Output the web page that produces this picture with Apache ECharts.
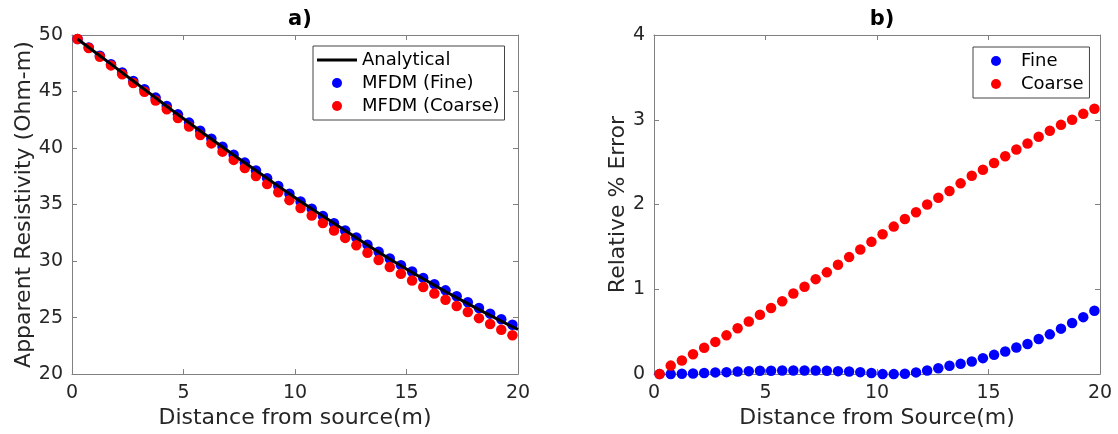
<!DOCTYPE html>
<html>
<head>
<meta charset="utf-8">
<script src="https://cdn.jsdelivr.net/npm/echarts@6/dist/echarts.min.js"></script>
<style>html,body{margin:0;padding:0;background:#fff;}#c{width:1118px;height:434px;}</style>
</head>
<body>
<div id="c"></div>
<script>
var distance = [0.25,0.75,1.25,1.75,2.25,2.75,3.25,3.75,4.25,4.75,5.25,5.75,6.25,6.75,7.25,7.75,8.25,8.75,9.25,9.75,
  10.25,10.75,11.25,11.75,12.25,12.75,13.25,13.75,14.25,14.75,15.25,15.75,16.25,16.75,17.25,17.75,18.25,18.75,19.25,19.75];
var analyticalX = [0.25,0.75,1.25,1.75,2.25,2.75,3.25,3.75,4.25,4.75,5.25,5.75,6.25,6.75,7.25,7.75,8.25,8.75,9.25,9.75,
  10.25,10.75,11.25,11.75,12.25,12.75,13.25,13.75,14.25,14.75,15.25,15.75,16.25,16.75,17.25,17.75,18.25,18.75,19.25,19.75,20];
var analytical = [49.65,48.90,48.16,47.42,46.67,45.93,45.19,44.45,43.70,42.96,42.23,41.51,40.80,40.09,39.39,38.69,38.01,37.32,36.63,35.95,
  35.28,34.63,33.99,33.34,32.70,32.06,31.42,30.79,30.19,29.58,29.00,28.43,27.87,27.31,26.77,26.24,25.71,25.20,24.68,24.19,23.95];
var fineRho = [49.65,48.90,48.16,47.42,46.68,45.94,45.20,44.46,43.72,42.98,42.25,41.53,40.82,40.11,39.41,38.71,38.02,37.33,36.64,35.95,
  35.28,34.63,33.99,33.35,32.71,32.08,31.45,30.83,30.23,29.64,29.07,28.51,27.96,27.41,26.88,26.36,25.85,25.35,24.85,24.37];
var coarseRho = [49.65,48.85,48.08,47.31,46.53,45.76,44.98,44.21,43.43,42.66,41.90,41.15,40.41,39.68,38.95,38.23,37.52,36.81,36.09,35.39,
  34.70,34.03,33.37,32.70,32.05,31.39,30.74,30.10,29.48,28.87,28.28,27.70,27.13,26.57,26.02,25.49,24.95,24.44,23.92,23.43];
var fineErr = [0.0,0.0,0.004,0.008,0.012,0.02,0.023,0.031,0.035,0.039,0.039,0.043,0.043,0.043,0.043,0.039,0.035,0.031,0.023,0.012,
  0.0,0.0,0.004,0.02,0.043,0.07,0.098,0.121,0.149,0.188,0.227,0.266,0.313,0.356,0.414,0.469,0.536,0.602,0.672,0.747];
var coarseErr = [0.0,0.10,0.16,0.235,0.31,0.38,0.457,0.54,0.62,0.70,0.78,0.86,0.95,1.03,1.12,1.20,1.29,1.38,1.47,1.56,
  1.65,1.74,1.83,1.91,2.0,2.08,2.16,2.25,2.34,2.41,2.49,2.57,2.65,2.72,2.80,2.87,2.94,3.00,3.07,3.13];
var xTicksA = [0,5,10,15,20];
var yTicksA = [20,25,30,35,40,45,50];
var yTicksB = [0,1,2,3,4];

function pairs(xs, ys){ return xs.map(function(x,i){ return [x, ys[i]]; }); }

var FONT = 'DejaVu Sans';
var txt = '#262626';
var axisCol = '#808080';
function mainX(grid, name){
  return {type:'value', gridIndex:grid, min:0, max:20, interval:5, position:'bottom',
    name:name, nameLocation:'middle', nameGap:30,
    nameTextStyle:{fontFamily:FONT, fontSize:22, color:txt},
    axisLine:{show:true, onZero:false, lineStyle:{color:axisCol, width:1}},
    axisTick:{show:true, inside:true, length:5, lineStyle:{color:axisCol}},
    axisLabel:{fontFamily:FONT, fontSize:19, color:txt, margin:9},
    splitLine:{show:false}};
}
function topX(grid){
  return {type:'value', gridIndex:grid, min:0, max:20, interval:5, position:'top',
    axisLine:{show:true, onZero:false, lineStyle:{color:axisCol, width:1}},
    axisTick:{show:true, inside:true, length:5, lineStyle:{color:axisCol}},
    axisLabel:{show:false}, splitLine:{show:false}};
}
function mainY(grid, min, max, interval, name, gap){
  return {type:'value', gridIndex:grid, min:min, max:max, interval:interval, position:'left',
    name:name, nameLocation:'middle', nameGap:gap,
    nameTextStyle:{fontFamily:FONT, fontSize:22, color:txt},
    axisLine:{show:true, onZero:false, lineStyle:{color:axisCol, width:1}},
    axisTick:{show:true, inside:true, length:5, lineStyle:{color:axisCol}},
    axisLabel:{fontFamily:FONT, fontSize:19, color:txt, margin:9},
    splitLine:{show:false}};
}
function rightY(grid, min, max, interval){
  return {type:'value', gridIndex:grid, min:min, max:max, interval:interval, position:'right',
    axisLine:{show:true, onZero:false, lineStyle:{color:axisCol, width:1}},
    axisTick:{show:true, inside:true, length:5, lineStyle:{color:axisCol}},
    axisLabel:{show:false}, splitLine:{show:false}};
}

var chart = echarts.init(document.getElementById('c'), null, {renderer:'canvas'});
chart.setOption({
  backgroundColor:'#ffffff',
  animation:false,
  title:[
    {text:'a)', left:295, top:4, textAlign:'center', textStyle:{fontFamily:FONT, fontSize:21, fontWeight:'bold', color:'#000'}},
    {text:'b)', left:877, top:4, textAlign:'center', textStyle:{fontFamily:FONT, fontSize:21, fontWeight:'bold', color:'#000'}}
  ],
  grid:[
    {left:72, right:600, top:35, bottom:58},
    {left:654, right:18, top:35, bottom:58}
  ],
  legend:[
    {orient:'vertical', left:313, top:46, itemWidth:40, itemHeight:10, itemGap:3,
     padding:[4,5,4,4], borderColor:'#444', borderWidth:1, backgroundColor:'#fff',
     textStyle:{fontFamily:FONT, fontSize:18, lineHeight:20, color:'#000'},
     data:[{name:'Analytical', icon:'path://M0,0 L40,0 L40,3 L0,3 Z'},
           {name:'MFDM (Fine)', icon:'circle'},
           {name:'MFDM (Coarse)', icon:'circle'}]},
    {orient:'vertical', left:973, top:47, itemWidth:40, itemHeight:10, itemGap:3,
     padding:[4,6,4,18], borderColor:'#444', borderWidth:1, backgroundColor:'#fff',
     textStyle:{fontFamily:FONT, fontSize:18, lineHeight:20, color:'#000'},
     data:[{name:'Fine', icon:'circle'},{name:'Coarse', icon:'circle'}]}
  ],
  xAxis:[mainX(0,'Distance from source(m)'), topX(0), mainX(1,'Distance from Source(m)'), topX(1)],
  yAxis:[mainY(0,20,50,5,'Apparent Resistivity (Ohm-m)',34), rightY(0,20,50,5),
         mainY(1,0,4,1,'Relative % Error',22), rightY(1,0,4,1)],
  series:[
    {name:'Analytical', type:'line', xAxisIndex:0, yAxisIndex:0, data:pairs(analyticalX, analytical),
     showSymbol:false, symbol:'none', lineStyle:{color:'#000', width:3}, itemStyle:{color:'#000'}},
    {name:'MFDM (Fine)', type:'scatter', xAxisIndex:0, yAxisIndex:0, data:pairs(distance, fineRho),
     symbolSize:10.5, itemStyle:{color:'#0000ff', opacity:1}},
    {name:'MFDM (Coarse)', type:'scatter', xAxisIndex:0, yAxisIndex:0, data:pairs(distance, coarseRho),
     symbolSize:10.5, itemStyle:{color:'#ff0000', opacity:1}},
    {name:'Fine', type:'scatter', xAxisIndex:2, yAxisIndex:2, data:pairs(distance, fineErr), clip:false,
     symbolSize:10.5, itemStyle:{color:'#0000ff', opacity:1}},
    {name:'Coarse', type:'scatter', xAxisIndex:2, yAxisIndex:2, data:pairs(distance, coarseErr), clip:false,
     symbolSize:10.5, itemStyle:{color:'#ff0000', opacity:1}}
  ]
});
</script>
</body>
</html>
